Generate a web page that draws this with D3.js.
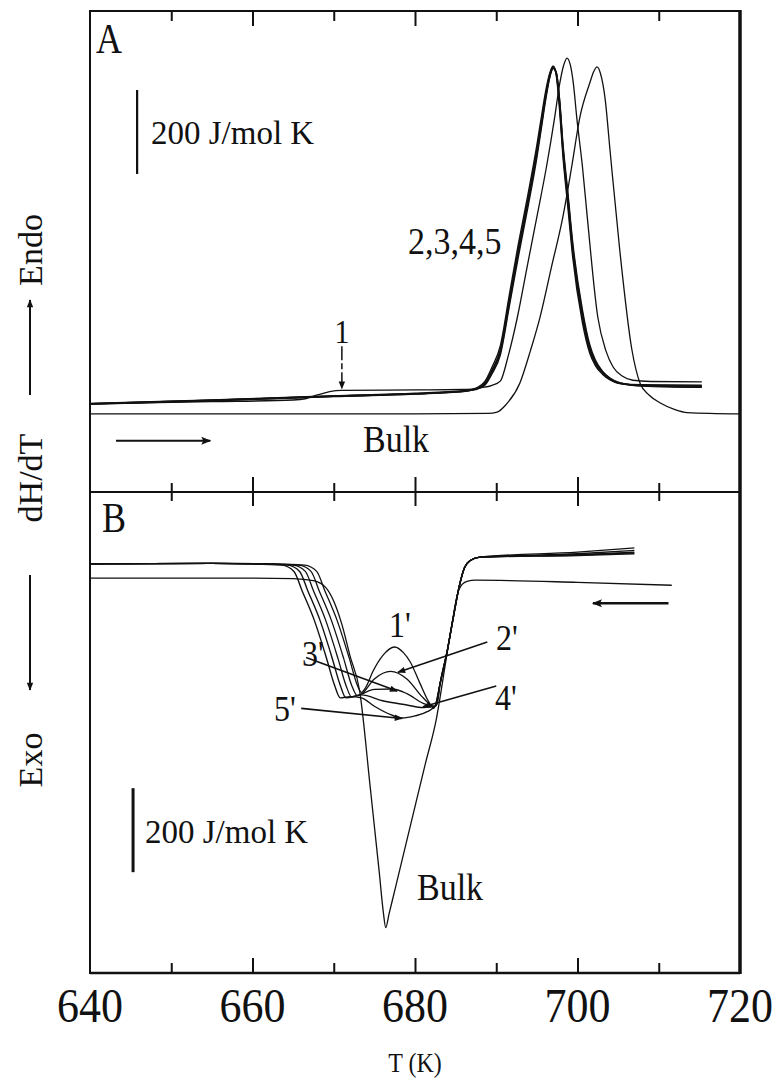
<!DOCTYPE html>
<html>
<head>
<meta charset="utf-8">
<script src="https://cdn.jsdelivr.net/npm/d3@7"></script>
<style>
  body { margin: 0; background: #fff; }
  text { font-family: "Liberation Serif", "DejaVu Serif", serif; fill: #111; }
</style>
</head>
<body>
<div id="chart"></div>
<script>
// x axis
var xTicks = [640, 660, 680, 700, 720];
var xMinor = [650, 670, 690, 710];

// panel A (heating), dH/dT in J/mol K, arbitrary offset
var tempA1 = [640, 655, 665, 666.5, 668, 669.5, 671, 680, 686, 688, 689.5, 690.5, 691.5, 692.6, 693.8, 695, 696.2, 697.2, 697.8, 698.3, 698.7, 699.1, 699.5, 699.9, 700.6, 701.2, 702.5, 703.5, 704.4, 705.5, 706.8, 709, 715.3];
var curveA1 = [24, 29, 33, 36, 45, 53, 56, 57, 58, 62, 68, 78, 140, 230, 350, 469, 590, 707, 785, 830, 847, 832, 785, 707, 590, 469, 230, 150, 111, 90, 80, 77, 76];

var tempThick = [640, 655, 670, 680, 686, 687.5, 688.6, 689.5, 690.5, 691.6, 692.7, 693.9, 695, 695.6, 696.1, 696.6, 697, 697.4, 697.8, 698.2, 698.8, 699.4, 700.6, 701.5, 702.2, 703.1, 704, 705.2, 708, 715.3];
var curveA2 = [24, 32, 42, 48, 54, 60, 73, 105, 152, 270, 390, 510, 628, 700, 760, 808, 826, 808, 735, 628, 510, 390, 230, 152, 120, 97, 83, 73, 68, 66];
var curveA3 = [25, 33, 43, 49, 55, 58, 68, 96, 140, 255, 372, 492, 610, 686, 750, 802, 822, 812, 748, 645, 530, 410, 248, 165, 128, 101, 85, 74, 66, 63];
var curveA4 = [23, 31, 41, 47, 53, 61, 77, 112, 162, 282, 402, 522, 640, 712, 770, 812, 828, 804, 722, 615, 495, 375, 218, 145, 115, 94, 81, 72, 67, 64];
var curveA5 = [24, 32, 42, 48, 54, 59, 71, 101, 147, 263, 383, 503, 620, 694, 755, 805, 824, 810, 742, 636, 520, 400, 240, 158, 124, 99, 84, 73, 69, 68];

var tempBulkA = [640, 680, 689, 690.1, 691.2, 692.9, 694.2, 695.4, 696.8, 698.2, 699.3, 700.3, 701.5, 702.0, 702.4, 702.8, 703.4, 704, 705.2, 706.7, 707.7, 708.8, 710.2, 712, 713.5, 720];
var curveBulkA = [0, 0, 1, 4, 22, 73, 150, 231, 350, 469, 590, 707, 787, 815, 826, 812, 750, 628, 390, 152, 73, 45, 26, 10, 3, 0];

// panel B (cooling)
var tempB1 = [640, 655, 662.4, 666.4, 667.9, 668.9, 670.4, 671.9, 672.9, 673.4, 674.0, 674.8, 676, 677.5, 678.6, 679.4, 680.6, 681.8, 682.3, 683.1, 684.0, 684.7, 685.5, 686.1, 686.8, 688, 700, 707];
var curveB1 = [34, 35, 34, 31, 16, -30, -100, -190, -255, -272, -258, -223, -185, -164, -178, -199, -250, -298, -310, -250, -170, -95, -15, 25, 42, 50, 62, 72];
var tempB2 = [640, 655, 661.7, 665.7, 667.2, 668.2, 669.7, 671.2, 672.2, 672.9, 673.4, 675, 677, 679, 681, 682.4, 683.1, 684.0, 684.7, 685.5, 686.1, 686.8, 688, 700, 707];
var curveB2 = [34, 35, 34, 31, 16, -30, -100, -190, -255, -280, -276, -240, -222, -240, -285, -306, -250, -170, -95, -15, 25, 42, 50, 58, 66];
var tempB3 = [640, 655, 661.0, 665.0, 666.5, 667.5, 669.0, 670.5, 671.5, 672.2, 673.4, 675, 677.2, 679, 681, 682.5, 683.1, 684.0, 684.7, 685.5, 686.1, 686.8, 688, 700, 707];
var curveB3 = [34, 35, 34, 31, 16, -30, -100, -190, -255, -283, -276, -265, -264, -275, -298, -305, -250, -170, -95, -15, 25, 42, 50, 56, 62];
var tempB4 = [640, 655, 660.3, 664.3, 665.8, 666.8, 668.3, 669.8, 670.8, 671.5, 673.4, 676, 679, 681, 682.6, 683.1, 684.0, 684.7, 685.5, 686.1, 686.8, 688, 700, 707];
var curveB4 = [34, 35, 34, 31, 16, -30, -100, -190, -255, -285, -278, -292, -302, -308, -304, -250, -170, -95, -15, 25, 42, 50, 55, 60];
var tempB5 = [640, 655, 659.6, 663.6, 665.1, 666.1, 667.6, 669.1, 670.1, 670.8, 672, 673.4, 675, 677, 678.4, 680, 681.5, 682.7, 683.1, 684.0, 684.7, 685.5, 686.1, 686.8, 688, 700, 707];
var curveB5 = [34, 35, 34, 31, 16, -30, -100, -190, -255, -285, -282, -285, -305, -325, -333, -328, -318, -300, -250, -170, -95, -15, 25, 42, 50, 54, 58];

var tempBulkB = [640, 660, 665, 667.5, 669, 670, 671, 672, 673.2, 674.5, 675.6, 676.1, 676.4, 676.8, 677.6, 679.5, 681.3, 682.6, 683.8, 684.6, 685.2, 685.8, 686.5, 687.4, 700, 711.6];
var curveBulkB = [0, 0, -1, -6, -22, -55, -110, -185, -270, -500, -700, -795, -832, -800, -736, -584, -440, -338, -197, -103, -40, -15, -7, -5, -10, -17];

// label pointers in panel B: [T0, v0, T1, v1]
var pointers = [
  [666.6, -189, 677.8, -269],
  [688.9, -152, 677.9, -224],
  [690.0, -257, 681.0, -306],
  [666.0, -310, 678.4, -334]
];

var W = 777, H = 1091;
var frameL = 90, frameR = 740, frameT = 11, frameM = 492, frameB = 973;

var svg = d3.select("#chart").append("svg")
    .attr("width", W)
    .attr("height", H);

var x = d3.scaleLinear().domain([640, 720]).range([frameL, frameR]);
var yA = d3.scaleLinear().domain([-186, 959]).range([frameM, frameT]);
var yB = d3.scaleLinear().domain([-940, 205]).range([frameB, frameM]);

var defs = svg.append("defs");
defs.append("marker")
    .attr("id", "head")
    .attr("viewBox", "0 0 10 10")
    .attr("refX", 9).attr("refY", 5)
    .attr("markerWidth", 10).attr("markerHeight", 8)
    .attr("markerUnits", "userSpaceOnUse")
    .attr("orient", "auto")
  .append("path")
    .attr("d", "M0,1 L10,5 L0,9 Z")
    .attr("fill", "#111");
defs.append("marker")
    .attr("id", "bighead")
    .attr("viewBox", "0 0 10 10")
    .attr("refX", 9).attr("refY", 5)
    .attr("markerWidth", 14).attr("markerHeight", 10)
    .attr("markerUnits", "userSpaceOnUse")
    .attr("orient", "auto")
  .append("path")
    .attr("d", "M0,1 L10,5 L0,9 L2,5 Z")
    .attr("fill", "#111");

function label(str, px, py, size, anchor, sy) {
  return svg.append("text")
      .attr("transform", "translate(" + px + "," + py + ") scale(1," + (sy || 1) + ")")
      .attr("text-anchor", anchor || "start")
      .style("font-size", size + "px")
      .text(str);
}

function zip(t, v) {
  return t.map(function(d, i) { return [d, v[i]]; });
}

function drawCurve(t, v, yScale, w, col) {
  var line = d3.line()
      .x(function(d) { return x(d[0]); })
      .y(function(d) { return yScale(d[1]); })
      .curve(d3.curveMonotoneX);
  svg.append("path")
      .datum(zip(t, v))
      .attr("d", line)
      .attr("fill", "none")
      .attr("stroke", col || "#111")
      .attr("stroke-width", w)
      .attr("stroke-linejoin", "round");
}

// ticks on the horizontal frame lines
function tickRow(yPos, axisFn, majorLen, minorLen) {
  svg.append("g")
      .attr("transform", "translate(0," + yPos + ")")
      .call(axisFn(x).tickValues(xTicks.slice(1, -1)).tickSize(majorLen).tickFormat(""));
  svg.append("g")
      .attr("transform", "translate(0," + yPos + ")")
      .call(axisFn(x).tickValues(xMinor).tickSize(minorLen).tickFormat(""));
}
tickRow(frameT, d3.axisBottom, 15, 10);
tickRow(frameM, d3.axisTop, 15, 9);
tickRow(frameM, d3.axisBottom, 14, 9);
tickRow(frameB, d3.axisTop, 15, 10);
svg.selectAll(".domain").remove();
svg.selectAll(".tick line").attr("stroke", "#111").attr("stroke-width", 2);

// frame
svg.append("line").attr("x1", frameL).attr("x2", frameR).attr("y1", frameT).attr("y2", frameT)
    .attr("stroke", "#111").attr("stroke-width", 2);
svg.append("line").attr("x1", frameL).attr("x2", frameR).attr("y1", frameM).attr("y2", frameM)
    .attr("stroke", "#111").attr("stroke-width", 2);
svg.append("line").attr("x1", frameL).attr("x2", frameR).attr("y1", frameB).attr("y2", frameB)
    .attr("stroke", "#111").attr("stroke-width", 2.5);
svg.append("line").attr("x1", frameL).attr("x2", frameL).attr("y1", frameT - 1).attr("y2", frameB + 1)
    .attr("stroke", "#111").attr("stroke-width", 2);
svg.append("line").attr("x1", frameR).attr("x2", frameR).attr("y1", frameT - 1).attr("y2", frameB + 1)
    .attr("stroke", "#111").attr("stroke-width", 3.5);

// panel A curves
drawCurve(tempBulkA, curveBulkA, yA, 1.3);
drawCurve(tempA1, curveA1, yA, 1.3);
drawCurve(tempThick, curveA2, yA, 1.6);
drawCurve(tempThick, curveA3, yA, 1.4);
drawCurve(tempThick, curveA4, yA, 1.4);
drawCurve(tempThick, curveA5, yA, 1.6);

// panel B curves
drawCurve(tempBulkB, curveBulkB, yB, 1.3);
drawCurve(tempB1, curveB1, yB, 1.3);
drawCurve(tempB2, curveB2, yB, 1.3);
drawCurve(tempB3, curveB3, yB, 1.3);
drawCurve(tempB4, curveB4, yB, 1.4);
drawCurve(tempB5, curveB5, yB, 1.4);

// pointers for 2'..5'
svg.selectAll(".pointer")
    .data(pointers).enter()
    .append("line")
    .attr("class", "pointer")
    .attr("x1", function(d) { return x(d[0]); })
    .attr("y1", function(d) { return yB(d[1]); })
    .attr("x2", function(d) { return x(d[2]); })
    .attr("y2", function(d) { return yB(d[3]); })
    .attr("stroke", "#111")
    .attr("stroke-width", 1.6)
    .attr("marker-end", "url(#head)");

// arrow to the bump of curve 1
svg.append("line")
    .attr("x1", x(671)).attr("x2", x(671))
    .attr("y1", yA(161)).attr("y2", yA(60))
    .attr("stroke", "#111").attr("stroke-width", 1.5)
    .attr("stroke-dasharray", "14,3,6,3")
    .attr("marker-end", "url(#head)");

// heating / cooling direction arrows
svg.append("line")
    .attr("x1", x(643.2)).attr("x2", x(654.8))
    .attr("y1", yA(-64)).attr("y2", yA(-64))
    .attr("stroke", "#111").attr("stroke-width", 2.2)
    .attr("marker-end", "url(#bighead)");
svg.append("line")
    .attr("x1", x(711.2)).attr("x2", x(701.9))
    .attr("y1", yB(-60)).attr("y2", yB(-60))
    .attr("stroke", "#111").attr("stroke-width", 2.6)
    .attr("marker-end", "url(#bighead)");

// 200 J/mol K scale bars
svg.append("line")
    .attr("x1", x(645.8)).attr("x2", x(645.8))
    .attr("y1", yA(571)).attr("y2", yA(771))
    .attr("stroke", "#111").attr("stroke-width", 2.2);
svg.append("line")
    .attr("x1", x(645.3)).attr("x2", x(645.3))
    .attr("y1", yB(-700)).attr("y2", yB(-500))
    .attr("stroke", "#111").attr("stroke-width", 3);

// texts
label("A", 96, 53, 36, "start", 1.15);
label("B", 102, 532, 36, "start", 1.15);
label("200 J/mol K", 151, 144, 33, "start", 1.05);
label("200 J/mol K", 145, 843, 33, "start", 1.05);
label("2,3,4,5", 408, 254, 34, "start", 1.1);
label("1", x(671), 343, 30, "middle", 1.1);
label("Bulk", 363, 452, 34, "start", 1.1);
label("Bulk", 417, 900, 34, "start", 1.1);
label("1'", 389, 637, 32, "start", 1.1);
label("2'", 496, 650, 32, "start", 1.1);
label("3'", 302, 666, 32, "start", 1.1);
label("4'", 495, 710, 32, "start", 1.1);
label("5'", 274, 721, 32, "start", 1.1);

xTicks.forEach(function(t) {
  label(t, x(t), 1022, 44, "middle", 1.1);
});
label("T (K)", x(680), 1072, 24, "middle", 1.1);

// y axis label
var yl = svg.append("g").attr("transform", "translate(42,0) rotate(-90)");
yl.append("text").attr("x", -250).attr("y", 0).attr("text-anchor", "middle")
    .style("font-size", "34px").text("Endo");
yl.append("text").attr("x", -478).attr("y", 0).attr("text-anchor", "middle")
    .style("font-size", "34px").text("dH/dT");
yl.append("text").attr("x", -760).attr("y", 0).attr("text-anchor", "middle")
    .style("font-size", "34px").text("Exo");
svg.append("line").attr("x1", 30).attr("x2", 30).attr("y1", 395).attr("y2", 300)
    .attr("stroke", "#111").attr("stroke-width", 2).attr("marker-end", "url(#head)");
svg.append("line").attr("x1", 30).attr("x2", 30).attr("y1", 575).attr("y2", 690)
    .attr("stroke", "#111").attr("stroke-width", 2).attr("marker-end", "url(#head)");
</script>
</body>
</html>
